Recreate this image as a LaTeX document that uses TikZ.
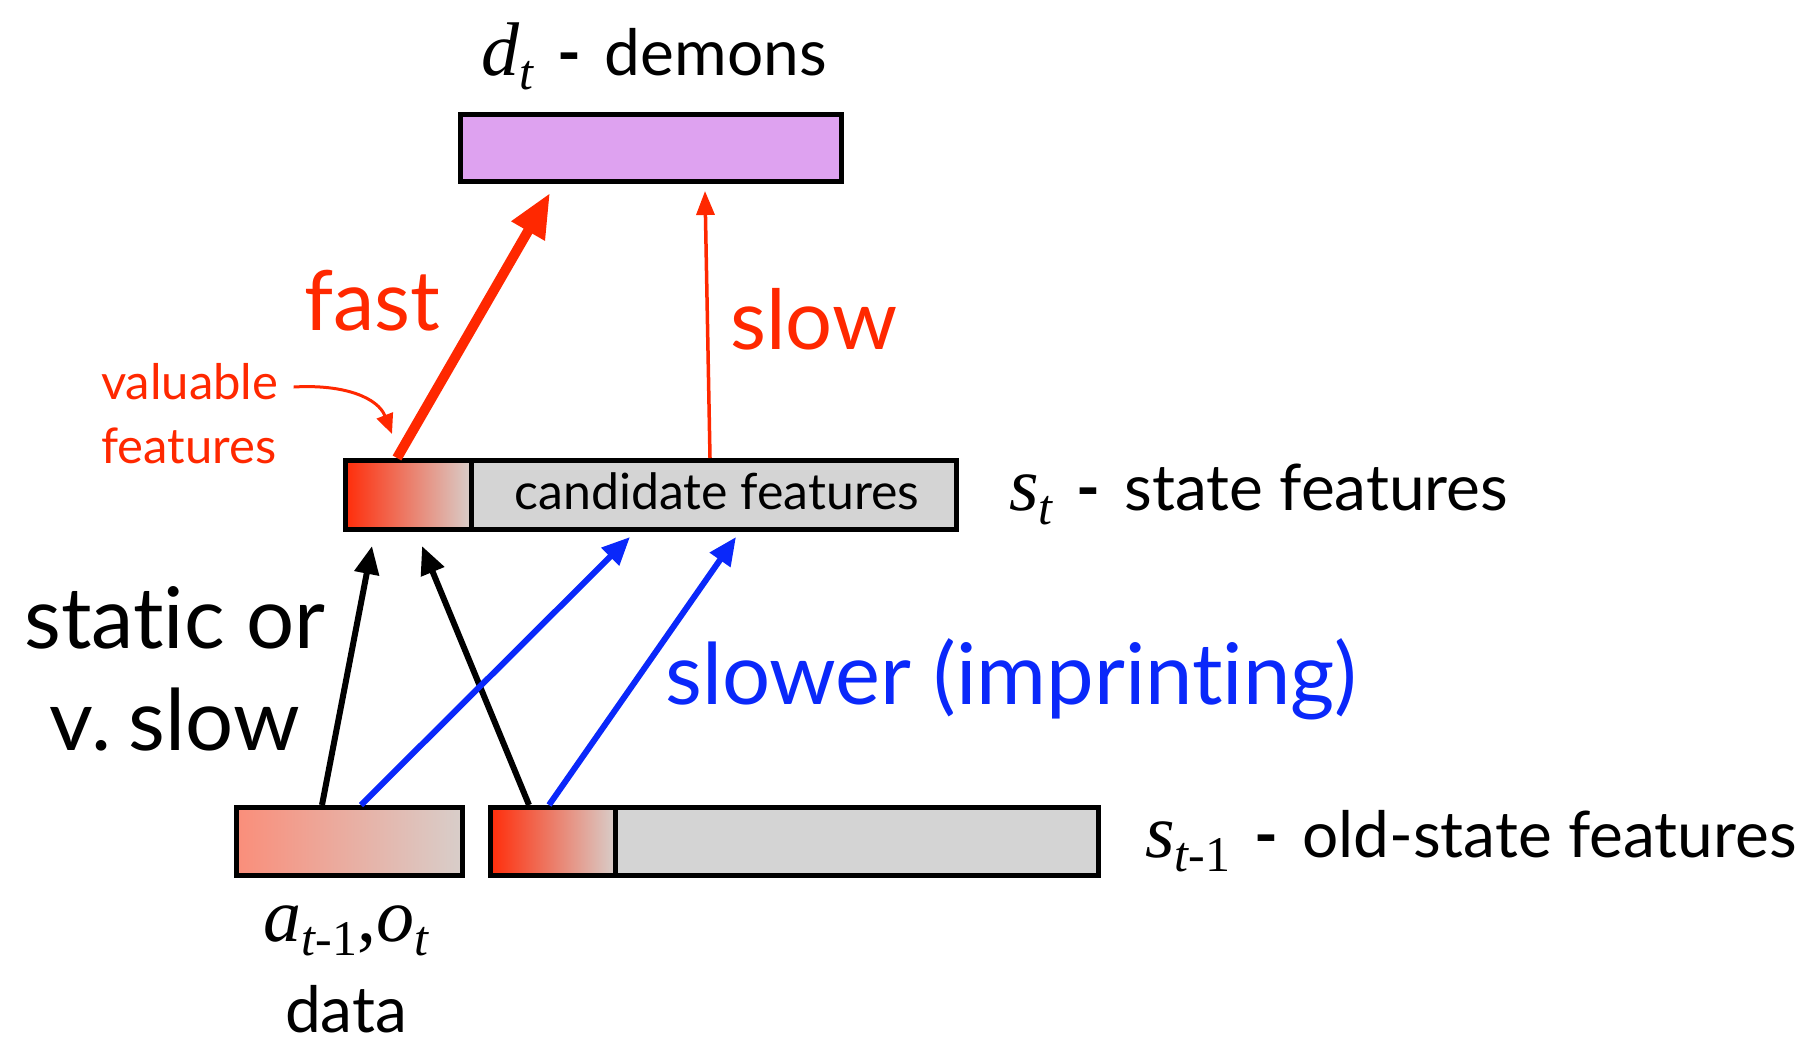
\documentclass[tikz,border=0pt]{standalone}
\usepackage{fontspec}
\setmainfont[Ligatures={NoCommon,NoRare,NoDiscretionary}]{Lato}
\newfontfamily\tms{Liberation Serif}
\usetikzlibrary{arrows.meta}
\definecolor{myred}{RGB}{255,40,0}
\definecolor{myblue}{RGB}{10,40,250}
\definecolor{boxgrey}{RGB}{212,212,212}
\definecolor{purp}{RGB}{222,162,240}
\definecolor{salmon}{RGB}{250,142,122}
\definecolor{redstart}{RGB}{255,45,10}
\definecolor{fadeend}{RGB}{216,206,202}
% math-like italic letter with subscript, in Times-like italic
\newcommand{\mv}[2]{{\fontsize{76}{80}\selectfont\tms\itshape #1\raisebox{-14pt}{\fontsize{50}{54}\selectfont #2}}}
\newcommand{\dsh}{\hspace{24pt}\textbf{-}\hspace{24pt}}
\tikzset{
  box/.style={draw=black, line width=5pt, inner sep=0pt, anchor=north west},
  lbl/.style={inner sep=0pt, anchor=base west},
  fastarrow/.style={myred, line width=10pt, -{Triangle[length=44pt,width=36pt]}},
  slowarrow/.style={myred, line width=3.5pt, -{Triangle[length=24pt,width=18pt]}},
  blackarrow/.style={black, line width=6pt, -{Triangle[length=28pt,width=24pt]}},
  bluearrow/.style={myblue, line width=6pt, -{Triangle[length=28pt,width=24pt]}},
}
\begin{document}
\begin{tikzpicture}[x=1pt,y=-1pt]
\useasboundingbox (0,0) rectangle (1804,1045);
% boxes
\node[box, fill=purp, minimum width=381pt, minimum height=67pt] (dem) at (458,112) {};
\node[box, fill=boxgrey, minimum width=611pt, minimum height=69pt] (st) at (343,458) {};
\node[box, left color=redstart, right color=fadeend, minimum width=126pt, minimum height=69pt] (stred) at (343,458) {};
\node[box, left color=salmon, right color=fadeend, minimum width=226pt, minimum height=68pt] (data) at (234,805) {};
\node[box, fill=boxgrey, minimum width=608pt, minimum height=68pt] (old) at (488,805) {};
\node[box, left color=redstart, right color=fadeend, minimum width=125pt, minimum height=68pt] (oldred) at (488,805) {};
% texts
\node[lbl] (demlbl) at (481,75) {\mv{d}{t}\fontsize{64}{72}\selectfont\dsh demons};
\node[lbl] (fast) at (304,330) {\fontsize{83}{96}\selectfont\color{myred}fast};
\node[lbl] (slow) at (730,349) {\fontsize{83}{96}\selectfont\color{myred}slow};
\node[lbl] (val) at (101,399) {\fontsize{49}{56}\selectfont\color{myred}valuable};
\node[lbl] (feat) at (101,463) {\fontsize{49}{56}\selectfont\color{myred}features};
\node[lbl, anchor=base] (cand) at (717,509) {\fontsize{50}{60}\selectfont candidate features};
\node[lbl] (stlbl) at (1009,510) {\mv{s}{t}\fontsize{64}{72}\selectfont\dsh state features};
\node[lbl, anchor=base] (static) at (175,648) {\fontsize{85}{96}\selectfont static or};
\node[lbl, anchor=base] (vslow) at (175,750) {\fontsize{85}{96}\selectfont v.\kern-4pt\ slow};
\node[lbl] (slower) at (665,704) {\fontsize{85}{96}\selectfont\color{myblue}slower (imprinting)};
\node[lbl] (oldlbl) at (1145,857) {\mv{s}{t\upshape-1}\fontsize{64}{72}\selectfont\dsh old-state features};
\node[lbl, anchor=base] (alab) at (346,941) {\mv{a}{t\upshape-1}{\fontsize{76}{80}\selectfont\tms,}\mv{o}{t}};
\node[lbl, anchor=base] (datalbl) at (346,1032) {\fontsize{64}{72}\selectfont data};
% arrows
\draw[fastarrow] ([xshift=54pt]st.north west) -- ([xshift=92pt,yshift=-9pt]dem.south west);
\draw[slowarrow] ([xshift=367pt]st.north west) -- ([xshift=247pt,yshift=-7pt]dem.south west);
\draw[blackarrow] ([xshift=88pt]data.north west) -- ([xshift=29pt,yshift=-14pt]st.south west);
\draw[blackarrow] ([xshift=41pt]old.north west) -- ([xshift=79pt,yshift=-14pt]st.south west);
\draw[bluearrow] ([xshift=127pt]data.north west) -- ([xshift=287pt,yshift=-5pt]st.south west);
\draw[bluearrow] ([xshift=61pt]old.north west) -- ([xshift=393pt,yshift=-5pt]st.south west);
\coordinate (valtip) at (392,434);
\draw[myred, line width=3pt, -{Triangle[length=20pt,width=17pt]}] ([xshift=15pt,yshift=12pt]val.base east) .. controls (345,384) and (378,398) .. (valtip);
\end{tikzpicture}
\end{document}
